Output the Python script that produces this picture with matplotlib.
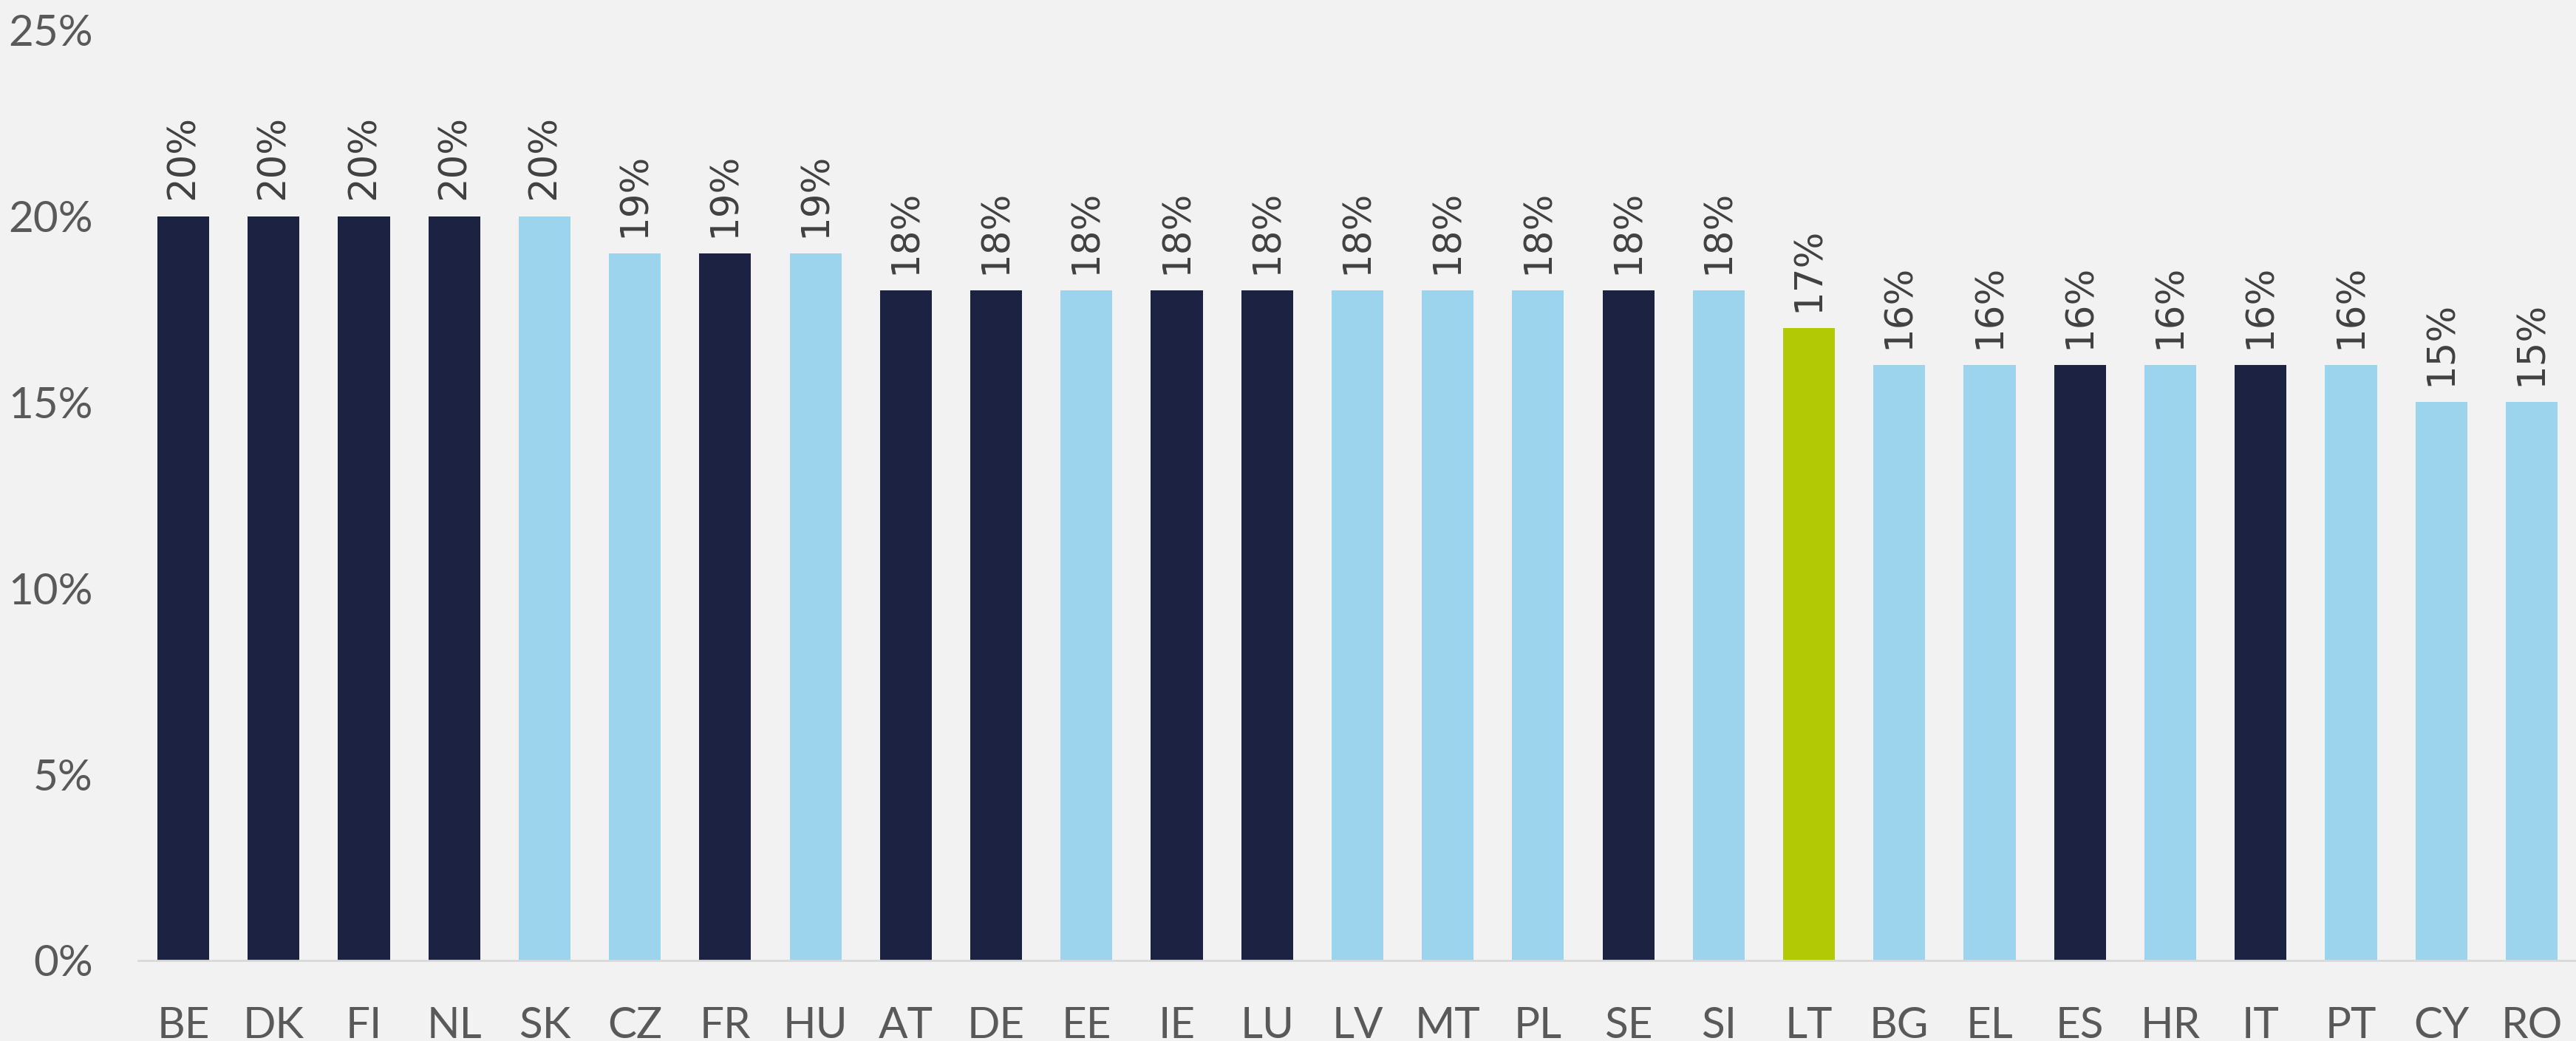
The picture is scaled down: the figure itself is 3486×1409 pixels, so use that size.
import matplotlib
matplotlib.use("Agg")
import matplotlib.pyplot as plt
from matplotlib.ticker import PercentFormatter

countries = ["BE", "DK", "FI", "NL", "SK", "CZ", "FR", "HU", "AT", "DE", "EE", "IE", "LU", "LV",
             "MT", "PL", "SE", "SI", "LT", "BG", "EL", "ES", "HR", "IT", "PT", "CY", "RO"]
values = [20, 20, 20, 20, 20, 19, 19, 19, 18, 18, 18, 18, 18, 18,
          18, 18, 18, 18, 17, 16, 16, 16, 16, 16, 16, 15, 15]
# n = navy, l = light blue, g = green (highlighted country)
groups = ["n", "n", "n", "n", "l", "l", "n", "l", "n", "n", "l", "n", "n", "l",
          "l", "l", "n", "l", "g", "l", "l", "n", "l", "n", "l", "l", "l"]

palette = {"n": "#1C2342", "l": "#9CD4EE", "g": "#B1CA05"}
bg = "#F2F2F2"

fig = plt.figure(figsize=(34.87, 14.09), dpi=100, facecolor=bg)
ax = fig.add_axes([0.0536, 0.0774, 0.9464, 0.8936], facecolor=bg)

x = range(len(countries))
ax.bar(x, values, width=0.574, color=[palette[g] for g in groups])

for i, v in enumerate(values):
    ax.annotate(f"{v}%", (i, v), xytext=(0, 16), textcoords="offset points",
                rotation=90, ha="center", va="bottom", fontsize=37,
                color="#404040", family="DejaVu Sans")

ax.set_xlim(-0.5, len(countries) - 0.5)
ax.set_ylim(0, 25)
ax.set_yticks([0, 5, 10, 15, 20, 25])
ax.yaxis.set_major_formatter(PercentFormatter(decimals=0))
ax.set_xticks(list(x))
ax.set_xticklabels(countries)

for s in ["top", "right", "left"]:
    ax.spines[s].set_visible(False)
ax.spines["bottom"].set_color("#D9D9D9")
ax.spines["bottom"].set_linewidth(2)

ax.tick_params(axis="both", length=0, labelsize=42, labelcolor="#595959")
ax.tick_params(axis="y", pad=44)
ax.tick_params(axis="x", pad=45)
for lab in ax.get_xticklabels() + ax.get_yticklabels():
    lab.set_family("Lato")

fig.savefig("out.png", dpi=100, facecolor=bg)
